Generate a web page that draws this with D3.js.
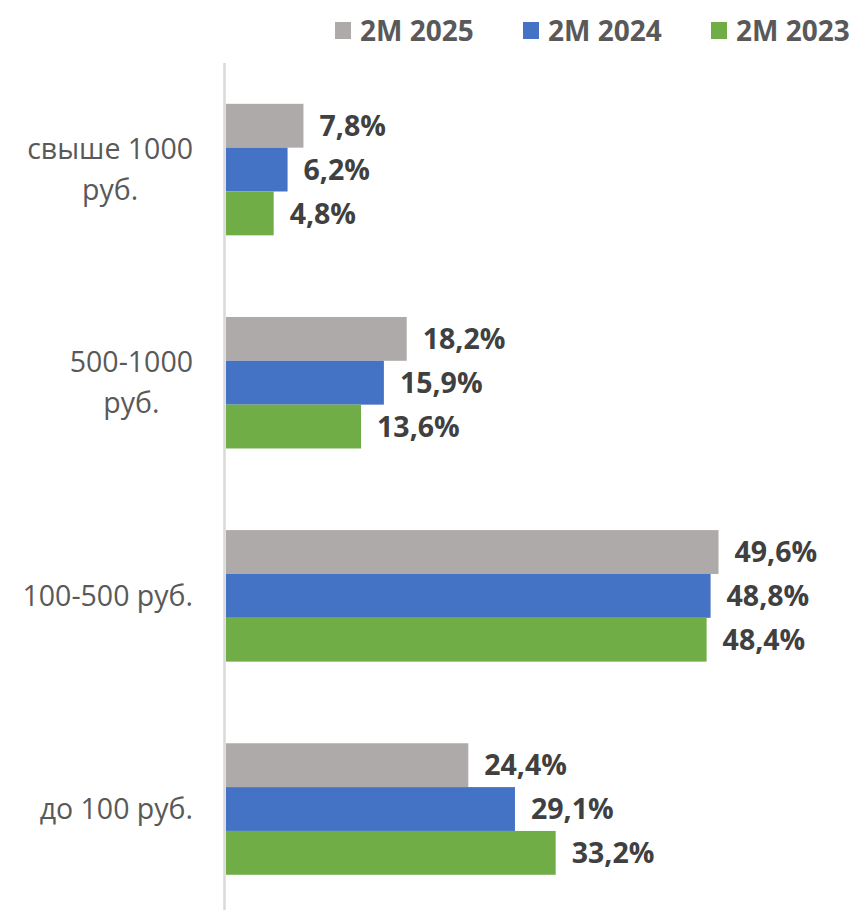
<!DOCTYPE html>
<html><head><meta charset="utf-8">
<script src="https://cdn.jsdelivr.net/npm/d3@7"></script>
<style>
html,body{margin:0;padding:0;background:#fff;}
svg{display:block;font-family:"Open Sans", sans-serif;}
</style></head>
<body>
<svg id="chart" width="854" height="910"></svg>
<script>
const categories = ["свыше 1000 руб.", "500-1000 руб.", "100-500 руб.", "до 100 руб."];
const categoryLines = [["свыше 1000", "руб."], ["500-1000", "руб."], ["100-500 руб."], ["до 100 руб."]];
const seriesNames = ["2M 2025", "2M 2024", "2M 2023"];
const values2025 = [7.8, 18.2, 49.6, 24.4];
const values2024 = [6.2, 15.9, 48.8, 29.1];
const values2023 = [4.8, 13.6, 48.4, 33.2];
const seriesColors = ["#AEAAAA", "#4472C4", "#70AD47"];

const seriesValues = [values2025, values2024, values2023];
const svg = d3.select("#chart");

const x = d3.scaleLinear().domain([0, 60]).range([226, 226 + 9.93 * 60]);
const y0 = d3.scaleBand().domain(categories).range([63, 915.6]).paddingInner(0.383).paddingOuter(0.1915);
const y1 = d3.scaleBand().domain(seriesNames).range([0, y0.bandwidth()]);
const fmt = v => d3.format(".1f")(v).replace(".", ",") + "%";

// axis line
svg.append("line").attr("x1", 224.5).attr("x2", 224.5).attr("y1", 63).attr("y2", 910)
  .attr("stroke", "#D9D9D9").attr("stroke-width", 2.5);

const groups = svg.selectAll("g.cat").data(categories).join("g")
  .attr("class", "cat").attr("transform", d => `translate(0,${y0(d)})`);

groups.each(function(cat, ci) {
  const g = d3.select(this);
  seriesNames.forEach((s, si) => {
    const v = seriesValues[si][ci];
    g.append("rect").attr("x", x(0)).attr("y", y1(s)).attr("width", x(v) - x(0))
      .attr("height", y1.bandwidth()).attr("fill", seriesColors[si]);
    g.append("text").attr("x", x(v) + 16).attr("y", y1(s) + y1.bandwidth() / 2)
      .attr("dy", "0.36em").attr("font-size", 28.5).attr("font-weight", "bold")
      .attr("fill", "#404040").text(fmt(v));
  });
});

// category labels
const lineH = 41;
categories.forEach((cat, ci) => {
  const lines = categoryLines[ci];
  const cy = y0(cat) + y0.bandwidth() / 2;
  const t = svg.append("text").attr("font-size", 28.5).attr("fill", "#595959").attr("text-anchor", "middle");
  const tsp = lines.map((ln, li) => t.append("tspan").text(ln));
  const maxW = d3.max(tsp, s => s.node().getComputedTextLength());
  const cx = 193 - maxW / 2;
  tsp.forEach((s, li) => s.attr("x", cx).attr("y", cy + (li - (lines.length - 1) / 2) * lineH).attr("dy", "0.36em"));
});

// legend
const legX = [335, 523, 711];
seriesNames.forEach((s, i) => {
  svg.append("rect").attr("x", legX[i]).attr("y", 22).attr("width", 16).attr("height", 17).attr("fill", seriesColors[i]);
  svg.append("text").attr("x", legX[i] + 25).attr("y", 30.5).attr("dy", "0.36em")
    .attr("font-size", 28).attr("font-weight", "bold").attr("fill", "#595959").text(s);
});
</script>
</body></html>
